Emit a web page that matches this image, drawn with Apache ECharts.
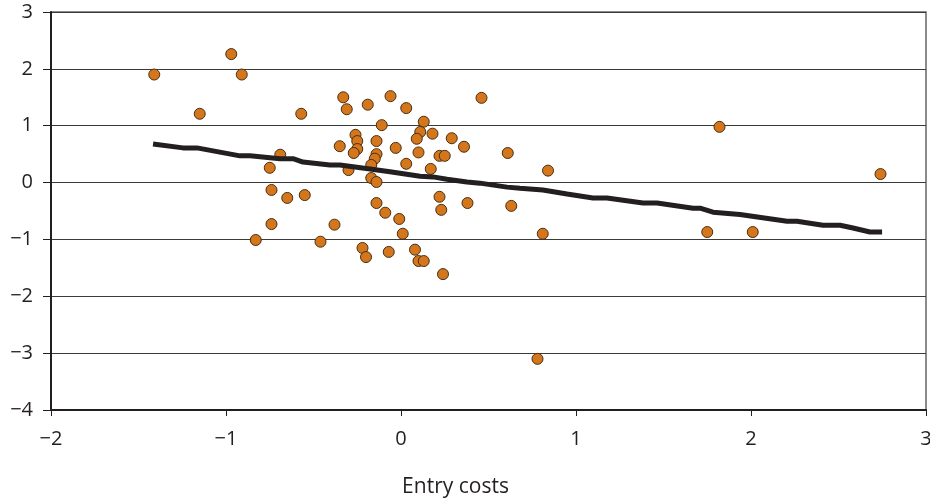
<!DOCTYPE html>
<html>
<head>
<meta charset="utf-8">
<script src="https://cdn.jsdelivr.net/npm/echarts@6/dist/echarts.min.js"></script>
<style>
html,body{margin:0;padding:0;background:#fff;}
#chart{width:930px;height:499px;}
</style>
</head>
<body>
<div id="chart"></div>
<script>
const pointX = [-1.41,-0.97,-0.91,-1.15,-0.57,-0.69,-0.75,-0.74,-0.65,-0.55,-0.74,-0.83,-0.46,
  -0.33,-0.31,-0.19,-0.06,0.03,0.46,-0.11,0.13,-0.26,-0.25,-0.35,-0.25,-0.27,-0.14,-0.14,-0.15,-0.17,
  -0.03,0.11,0.09,0.18,0.29,0.36,0.10,0.22,0.25,-0.30,0.03,0.17,-0.17,-0.14,-0.14,-0.09,-0.01,0.01,
  -0.38,0.22,0.23,0.38,-0.22,-0.20,-0.07,0.08,0.10,0.13,0.24,0.61,0.84,0.63,0.81,1.82,2.74,1.75,2.01,0.78];
const pointY = [1.90,2.26,1.90,1.21,1.21,0.49,0.26,-0.13,-0.27,-0.22,-0.73,-1.01,-1.04,
  1.50,1.29,1.37,1.52,1.31,1.49,1.01,1.07,0.84,0.73,0.64,0.59,0.52,0.73,0.50,0.42,0.31,
  0.61,0.89,0.77,0.86,0.78,0.63,0.53,0.47,0.47,0.22,0.33,0.24,0.08,0.01,-0.36,-0.53,-0.64,-0.90,
  -0.74,-0.25,-0.48,-0.36,-1.15,-1.31,-1.22,-1.18,-1.38,-1.38,-1.61,0.52,0.21,-0.41,-0.90,0.98,0.15,-0.87,-0.87,-3.10];
const lineX = [-1.417,-1.246,-1.166,-0.92,-0.863,-0.691,-0.617,-0.56,-0.406,-0.349,-0.177,-0.063,0.109,0.183,0.263,0.377,0.451,
  0.606,0.68,0.811,0.949,1.097,1.177,1.383,1.463,1.669,1.709,1.783,1.937,2.206,2.263,2.411,2.509,2.583,2.68,2.749];
const lineY = [0.68,0.61,0.61,0.47,0.47,0.42,0.42,0.36,0.31,0.31,0.24,0.19,0.11,0.10,0.06,0.01,-0.01,
  -0.08,-0.10,-0.13,-0.20,-0.27,-0.27,-0.36,-0.36,-0.45,-0.45,-0.52,-0.56,-0.68,-0.68,-0.75,-0.75,-0.80,-0.87,-0.87];
const xTicks = {min:-2, max:3, step:1};
const yTicks = {min:-4, max:3, step:1};
const xTitle = 'Entry costs';

const fmt = v => String(v).replace('-', '\u2212');
const font = "'Open Sans', 'Noto Sans', sans-serif";
const chart = echarts.init(document.getElementById('chart'));
chart.setOption({
  animation:false,
  backgroundColor:'#fff',
  grid:{left:51,right:4,top:12,bottom:89,show:true,borderColor:'#666',borderWidth:1.5,
    containLabel:false,outerBoundsMode:'none'},
  xAxis:{type:'value',min:xTicks.min,max:xTicks.max,interval:xTicks.step,
    name:xTitle,nameLocation:'middle',nameGap:67,
    nameTextStyle:{fontFamily:font,fontSize:21,color:'#231f20',padding:[0,66,0,0]},
    axisLine:{show:true,onZero:false,lineStyle:{color:'#231f20',width:2}},
    axisTick:{show:true,length:6,lineStyle:{color:'#231f20',width:1}},
    axisLabel:{formatter:fmt,fontFamily:font,fontSize:20,color:'#231f20',margin:19},
    splitLine:{show:false}},
  yAxis:{type:'value',min:yTicks.min,max:yTicks.max,interval:yTicks.step,
    axisLine:{show:true,onZero:false,lineStyle:{color:'#231f20',width:2}},
    axisTick:{show:true,length:8,lineStyle:{color:'#231f20',width:1}},
    axisLabel:{formatter:fmt,fontFamily:font,fontSize:20,color:'#231f20',margin:18,
      padding:[10,0,0,0],backgroundColor:'rgba(255,255,255,0)'},
    splitLine:{show:true,lineStyle:{color:'#3a3a3a',width:1.2}}},
  series:[
    {type:'scatter',data:pointX.map((x,i)=>[x,pointY[i]]),symbolSize:11,z:3,
     itemStyle:{color:'#d4761c',borderColor:'#4a2e12',borderWidth:1,opacity:1}},
    {type:'line',data:lineX.map((x,i)=>[x,lineY[i]]),showSymbol:false,symbol:'none',z:4,
     lineStyle:{color:'#231f20',width:5}}
  ]
});
</script>
</body>
</html>
